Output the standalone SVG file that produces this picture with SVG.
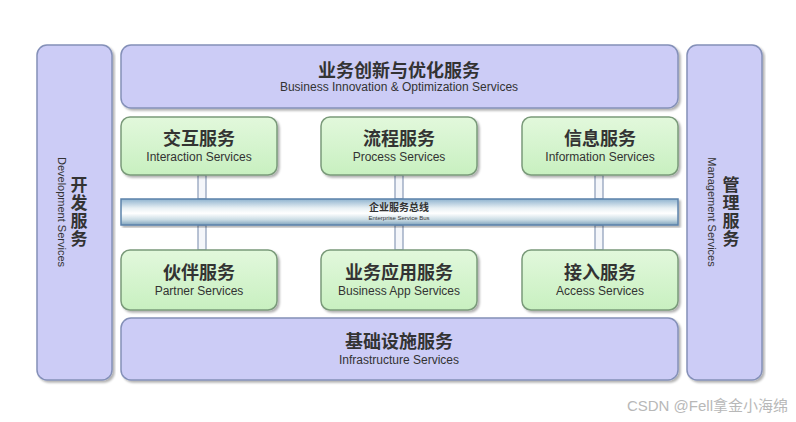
<svg xmlns="http://www.w3.org/2000/svg" width="796" height="422" viewBox="0 0 796 422">
<defs>
<linearGradient id="busG" x1="0" y1="0" x2="0" y2="1">
<stop offset="0" stop-color="#8fb3cf"/>
<stop offset="0.35" stop-color="#e8f0f4"/>
<stop offset="0.55" stop-color="#ffffff"/>
<stop offset="0.8" stop-color="#c9dbe4"/>
<stop offset="1" stop-color="#7fa3bd"/>
</linearGradient>
<linearGradient id="greenG" x1="0" y1="0" x2="0" y2="1">
<stop offset="0" stop-color="#e2f8dc"/>
<stop offset="1" stop-color="#c8f0c0"/>
</linearGradient>
<filter id="sh" x="-5%" y="-5%" width="110%" height="115%">
<feDropShadow dx="2" dy="2" stdDeviation="1.2" flood-color="#000" flood-opacity="0.3"/>
</filter>
</defs>
<style>
.lav{fill:#ccccf6;stroke:#8490b8;stroke-width:1.5;filter:url(#sh)}
.grn{fill:url(#greenG);stroke:#7a9a7a;stroke-width:1.5;filter:url(#sh)}
.zh{font-family:"Noto Sans CJK SC",sans-serif;font-weight:bold;font-size:18px;fill:#333;text-anchor:middle}
.en{font-family:"Liberation Sans",Arial,sans-serif;font-size:12px;fill:#333;text-anchor:middle}
.vzh{font-family:"Noto Sans CJK SC",sans-serif;font-weight:bold;font-size:17px;fill:#333;writing-mode:vertical-rl;letter-spacing:1px}
.ven{font-family:"Liberation Sans",Arial,sans-serif;font-size:11px;fill:#333;text-anchor:middle}
.pipe{fill:#f4f6fa;stroke:#8a9cb8;stroke-width:1.2}
</style>
<rect width="796" height="422" fill="#ffffff"/>

<g id="connectors">
<rect class="pipe" x="198" y="175" width="8" height="24"/>
<rect class="pipe" x="395" y="175" width="8" height="24"/>
<rect class="pipe" x="595" y="175" width="8" height="24"/>
<rect class="pipe" x="198" y="225" width="8" height="25"/>
<rect class="pipe" x="395" y="225" width="8" height="25"/>
<rect class="pipe" x="595" y="225" width="8" height="25"/>
</g>

<g id="dev">
<rect class="lav" x="37" y="45" width="75" height="335" rx="10"/>
<text transform="translate(58,212) rotate(90)" class="ven">Development Services</text>
<text class="vzh" x="79" y="176">开发服务</text>
</g>

<g id="mgmt">
<rect class="lav" x="687" y="45" width="75" height="335" rx="10"/>
<text transform="translate(708,212) rotate(90)" class="ven">Management Services</text>
<text class="vzh" x="731" y="176">管理服务</text>
</g>

<g id="top">
<rect class="lav" x="121" y="45" width="557" height="63" rx="10"/>
<text class="zh" x="399" y="77">业务创新与优化服务</text>
<text class="en" x="399" y="91">Business Innovation &amp; Optimization Services</text>
</g>

<g id="interaction">
<rect class="grn" x="121" y="117" width="156" height="58" rx="9"/>
<text class="zh" x="199" y="145">交互服务</text>
<text class="en" x="199" y="161">Interaction Services</text>
</g>
<g id="process">
<rect class="grn" x="321" y="117" width="156" height="58" rx="9"/>
<text class="zh" x="399" y="145">流程服务</text>
<text class="en" x="399" y="161">Process Services</text>
</g>
<g id="information">
<rect class="grn" x="522" y="117" width="156" height="58" rx="9"/>
<text class="zh" x="600" y="145">信息服务</text>
<text class="en" x="600" y="161">Information Services</text>
</g>

<g id="bus">
<rect x="121" y="199" width="557" height="26" fill="url(#busG)" stroke="#5b82aa" stroke-width="1.5" filter="url(#sh)"/>
<text class="zh" x="399" y="211" style="font-size:10px">企业服务总线</text>
<text class="en" x="399" y="220" style="font-size:6px">Enterprise Service Bus</text>
</g>

<g id="partner">
<rect class="grn" x="121" y="250" width="156" height="60" rx="9"/>
<text class="zh" x="199" y="279">伙伴服务</text>
<text class="en" x="199" y="295">Partner Services</text>
</g>
<g id="bizapp">
<rect class="grn" x="321" y="250" width="156" height="60" rx="9"/>
<text class="zh" x="399" y="279">业务应用服务</text>
<text class="en" x="399" y="295">Business App Services</text>
</g>
<g id="access">
<rect class="grn" x="522" y="250" width="156" height="60" rx="9"/>
<text class="zh" x="600" y="279">接入服务</text>
<text class="en" x="600" y="295">Access Services</text>
</g>

<g id="infra">
<rect class="lav" x="121" y="318" width="557" height="62" rx="10"/>
<text class="zh" x="399" y="348">基础设施服务</text>
<text class="en" x="399" y="364">Infrastructure Services</text>
</g>

<text x="788" y="411" font-family="Liberation Sans,Arial,'Noto Sans CJK SC',sans-serif" font-size="15" fill="#b8b8b8" text-anchor="end">CSDN @Fell拿金小海绵</text>
</svg>
